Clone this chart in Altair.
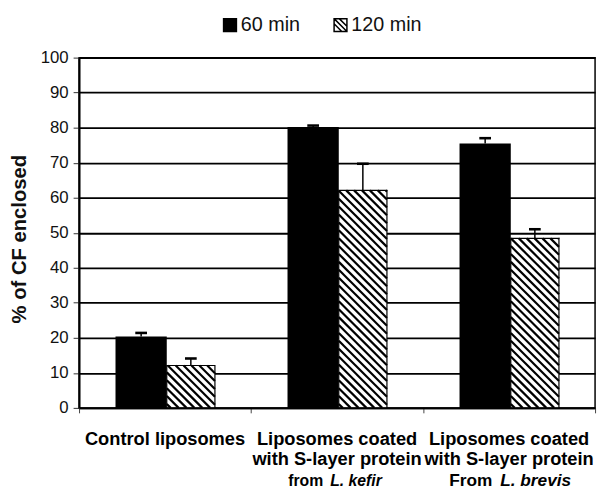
import altair as alt
import pandas as pd

# ---------------- data ----------------
categories = [
    "Control liposomes",
    "Liposomes coated with S-layer protein from L. kefir",
    "Liposomes coated with S-layer protein From L. brevis",
]
label_line1 = ["Control liposomes", "Liposomes coated", "Liposomes coated"]
label_line2 = ["", "with S-layer protein", "with S-layer protein"]
label_prefix = ["", "from", "From"]
label_species = ["", "L. kefir", "L. brevis"]
series = ["60 min", "120 min"]
values_60 = [20.4, 80.2, 75.5]
values_120 = [12.1, 62.1, 48.4]
err_60 = [1.0, 0.4, 1.5]
err_120 = [2.0, 7.6, 2.6]
y_ticks = [0, 10, 20, 30, 40, 50, 60, 70, 80, 90, 100]
y_title = "% of CF enclosed"

# ---------------- layout / style ----------------
W, H = 523, 355
PX = W / len(categories)          # pixels per category unit
PY = H / 100.0                    # pixels per percent
BAR60 = (-0.288, 0.01)            # bar extent relative to category centre
BAR120 = (0.01, 0.29)
HATCH_STEP = 8.0                  # horizontal spacing of hatch lines (px)
CAP = 0.034                       # half width of error-bar caps
FONT = "Liberation Sans"
HATCH_PATH = "M-1,-1H1V1H-1Z M-1,-0.2L0.2,1 M-1,-1L1,1 M-0.2,-1L1,0.2"

rows = []
for i, cat in enumerate(categories):
    c = i + 0.5
    for s, vals, errs, (a, b) in [
        ("60 min", values_60, err_60, BAR60),
        ("120 min", values_120, err_120, BAR120),
    ]:
        xm = c + (a + b) / 2
        rows.append(dict(category=cat, series=s, value=vals[i], top=vals[i] + errs[i],
                         x0=c + a, x1=c + b, xm=xm, cl=xm - CAP, cr=xm + CAP, zero=0.0))
bars = pd.DataFrame(rows)

# diagonal hatch segments clipped to each 120-min bar (45 degrees in pixel space)
hatch = []
for r in bars[bars.series == "120 min"].itertuples():
    X0, X1, Hb = r.x0 * PX, r.x1 * PX, r.value * PY
    k = X0 + HATCH_STEP / 2
    while k < X1 + Hb:
        lo, hi = max(X0, k - Hb), min(X1, k)
        if hi > lo:
            hatch.append(dict(hx=lo / PX, hy=(k - lo) / PY, hx2=hi / PX, hy2=(k - hi) / PY))
        k += HATCH_STEP
hatch = pd.DataFrame(hatch)

labels = pd.DataFrame(dict(center=[i + 0.5 for i in range(len(categories))],
                           line1=label_line1, line2=label_line2,
                           prefix=label_prefix, species=label_species))

# legend key marks sit hidden behind the first black bar
legend_df = pd.DataFrame(dict(series=series,
                              lx=[bars.xm.iloc[0]] * 2, ly=[8.0, 8.0]))

# ---------------- scales / axes ----------------
xscale = alt.Scale(domain=[0, 3], nice=False, zero=False)
yscale = alt.Scale(domain=[0, 100], nice=False, zero=True)
xaxis = alt.Axis(values=[0, 1, 2, 3], labels=False, title=None, ticks=True, tickSize=5,
                 tickColor="#444", tickWidth=1, domainColor="black", domainWidth=2,
                 grid=False, zindex=1)
yaxis = alt.Axis(values=y_ticks, title=y_title, grid=True, gridColor="black", gridWidth=1.8,
                 gridOpacity=1, domainColor="black", domainWidth=2, tickColor="#333",
                 tickSize=6, tickWidth=1, labelFont=FONT, labelFontSize=17, labelColor="#111",
                 labelPadding=5, titleFont=FONT, titleFontSize=20.5, titleFontWeight="bold",
                 titleColor="#111", titleX=-54, titleY=183.5, titleAngle=270,
                 titleAlign="center", titleBaseline="alphabetic")


def X(f):
    return alt.X(f, type="quantitative", scale=xscale, axis=xaxis)


def Y(f):
    return alt.Y(f, type="quantitative", scale=yscale, axis=yaxis)


leg = alt.Legend(title=None, orient="none", legendX=143, legendY=-43, direction="horizontal",
                 labelFont=FONT, labelFontSize=20, labelColor="#111", symbolSize=169,
                 symbolStrokeWidth=1.5, symbolOpacity=1,
                 labelOffset=1, columnPadding=30, padding=0)

legend_layer = alt.Chart(legend_df).mark_point(
    filled=True, size=169, opacity=1, strokeWidth=1.5).encode(
    x=X("lx"), y=Y("ly"),
    fill=alt.Fill("series:N", scale=alt.Scale(domain=series, range=["black", "white"]), legend=leg),
    shape=alt.Shape("series:N", scale=alt.Scale(domain=series, range=["square", HATCH_PATH]), legend=leg),
    stroke=alt.Stroke("series:N", scale=alt.Scale(domain=series, range=["black", "black"]), legend=leg),
)

b60 = alt.Chart(bars).transform_filter(alt.datum.series == "60 min").mark_bar(
    color="black").encode(x=X("x0"), x2="x1", y=Y("value"), y2="zero")

b120 = alt.Chart(bars).transform_filter(alt.datum.series == "120 min").mark_bar(
    color="white").encode(x=X("x0"), x2="x1", y=Y("value"), y2="zero")

hatch_layer = alt.Chart(hatch).mark_rule(color="black", strokeWidth=2.2).encode(
    x=X("hx"), y=Y("hy"), x2="hx2", y2="hy2")

b120_outline = alt.Chart(bars).transform_filter(alt.datum.series == "120 min").mark_bar(
    fillOpacity=0, stroke="black", strokeWidth=1.2).encode(
    x=X("x0"), x2="x1", y=Y("value"), y2="zero")

err = alt.Chart(bars).mark_rule(color="black", strokeWidth=1.5).encode(
    x=X("xm"), y=Y("value"), y2="top")
caps = alt.Chart(bars).mark_rule(color="black", strokeWidth=2.6).encode(
    x=X("cl"), x2="cr", y=Y("top"))

txt_style = dict(font=FONT, fontWeight="bold", fontSize=18.5, color="black",
                 baseline="alphabetic", align="center")
t1 = alt.Chart(labels).mark_text(**txt_style).encode(x=X("center"), y=alt.value(393), text="line1")
t2 = alt.Chart(labels).mark_text(**txt_style).encode(x=X("center"), y=alt.value(413), text="line2")

line3 = []
line3_style = {1: dict(size=16, dx_pre=-14, dx_sp=-7), 2: dict(size=17.5, dx_pre=-17, dx_sp=-9)}
for i, st in line3_style.items():
    sub = labels.iloc[[i]]
    line3.append(alt.Chart(sub).mark_text(font=FONT, fontWeight="bold", fontSize=st["size"],
                                          color="black", baseline="alphabetic", align="right",
                                          dx=st["dx_pre"]).encode(
        x=X("center"), y=alt.value(434), text="prefix"))
    line3.append(alt.Chart(sub).mark_text(font=FONT, fontWeight="bold", fontStyle="italic",
                                          fontSize=st["size"], color="black",
                                          baseline="alphabetic", align="left",
                                          dx=st["dx_sp"]).encode(
        x=X("center"), y=alt.value(434), text="species"))

chart = alt.layer(legend_layer, b60, b120, hatch_layer, b120_outline, err, caps, t1, t2, *line3).properties(
    width=W, height=H,
    autosize=alt.AutoSizeParams(type="none"),
    padding={"left": 72, "top": 47, "right": 5, "bottom": 85},
    background="white",
).configure_view(stroke="black", strokeWidth=1.5)

chart.save("out.html", embed_options={"renderer": "svg", "actions": False})
